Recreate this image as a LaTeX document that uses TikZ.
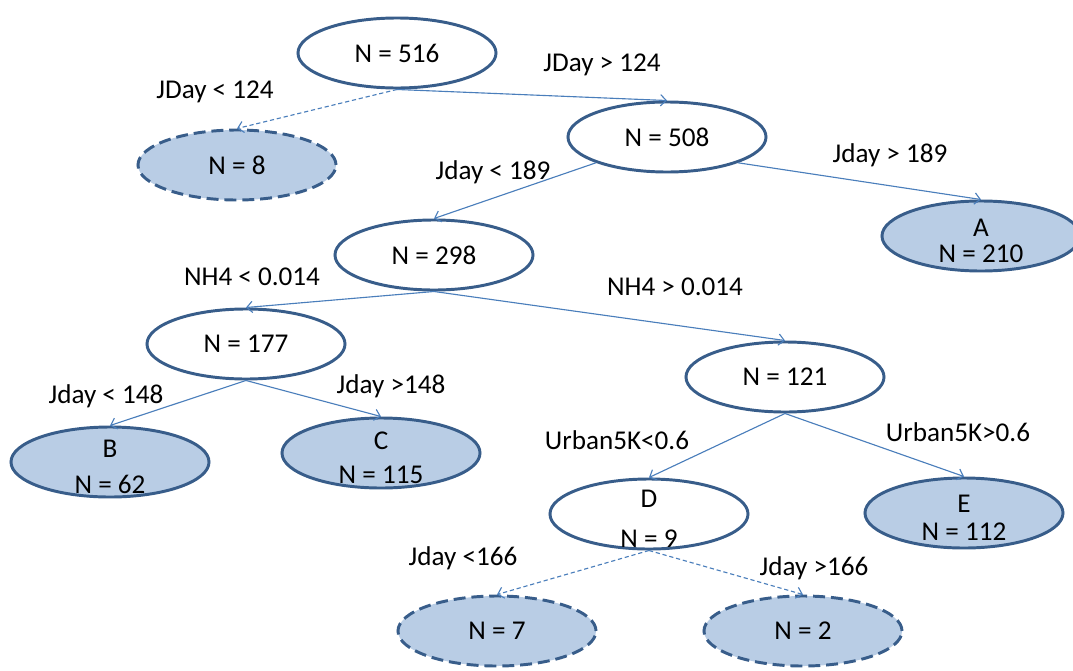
\documentclass[tikz,border=0pt]{standalone}
\usepackage{fontspec}
\setmainfont{Carlito}
\usepackage{tikz}
\usetikzlibrary{shapes.geometric, arrows.meta}
\definecolor{treeline}{HTML}{4A7EBB}
\definecolor{treeborder}{HTML}{385D8A}
\definecolor{treefill}{HTML}{B9CDE5}
\newcommand{\toppad}{\rule{0pt}{19.5pt}}

\begin{document}
\begin{tikzpicture}[
    x=0.025cm, y=-0.025cm,
    every node/.style={font=\fontsize{19.3}{22}\selectfont},
    split/.style={ellipse, draw=treeborder, line width=2.1pt, fill=white, minimum width=4.95cm, minimum height=1.75cm, inner sep=0pt, align=center},
    leaf/.style={split, fill=treefill},
    pruned/.style={leaf, dash pattern=on 8.5pt off 4.2pt},
    twoline/.style={inner ysep=-12pt},
    branch/.style={draw=treeline, line width=0.8pt, -{Straight Barb[length=4pt, width=8pt]}},
    cut/.style={branch, dash pattern=on 3pt off 2pt},
    rule/.style={inner sep=0pt}
]
    \useasboundingbox (0,0) rectangle (1073,671);

    % Nodes
    \node[split] (n516) at (397,53) {N = 516};
    \node[pruned] (n8) at (237,165) {N = 8};
    \node[split] (n508) at (667,137) {N = 508};
    \node[split] (n298) at (434,255) {N = 298};
    \node[leaf, twoline] (nA) at (981,236) {\toppad A\\[-3.6pt]N = 210};
    \node[split] (n177) at (246,344) {N = 177};
    \node[split] (n121) at (785,377) {N = 121};
    \node[leaf, twoline] (nB) at (110,462) {\toppad B\\[3.6pt]N = 62};
    \node[leaf, twoline] (nC) at (381,453) {\toppad C\\[2pt]N = 115};
    \node[split, twoline] (nD) at (649,514) {\toppad D\\[6.3pt]N = 9};
    \node[leaf, twoline] (nE) at (964,513) {\toppad E\\[-2.2pt]N = 112};
    \node[pruned] (n7) at (497,631) {N = 7};
    \node[pruned] (n2) at (803,631) {N = 2};

    % Branches
    \draw[cut] (n516.south) -- (n8.north);
    \draw[branch] (n516.south) -- (n508.north);
    \draw[branch] (n508.south west) -- (n298.north);
    \draw[branch] (n508.south east) -- (nA.north);
    \draw[branch] (n298.south) -- (n177.north);
    \draw[branch] (n298.south) -- (n121.north);
    \draw[branch] (n177.south) -- (nB.north);
    \draw[branch] (n177.south) -- (nC.north);
    \draw[branch] (n121.south) -- (nD.north);
    \draw[branch] (n121.south) -- (nE.north);
    \draw[cut] (nD.south) -- (n7.north);
    \draw[cut] (nD.south) -- (n2.north);

    % Split rules
    \node[rule] (r516a) at (215,92) {JDay < 124};
    \node[rule] (r516b) at (602,65) {JDay > 124};
    \node[rule] (r508a) at (493,172) {Jday < 189};
    \node[rule] (r508b) at (890,155) {Jday > 189};
    \node[rule] (r298a) at (252,277) {NH4 < 0.014};
    \node[rule] (r298b) at (675,287) {NH4 > 0.014};
    \node[rule] (r177a) at (106,396) {Jday < 148};
    \node[rule] (r177b) at (391,386) {Jday >148};
    \node[rule] (r121a) at (617,440) {Urban5K<0.6};
    \node[rule] (r121b) at (958,432) {Urban5K>0.6};
    \node[rule] (rDa) at (463,558) {Jday <166};
    \node[rule] (rDb) at (814,568) {Jday >166};
\end{tikzpicture}
\end{document}
